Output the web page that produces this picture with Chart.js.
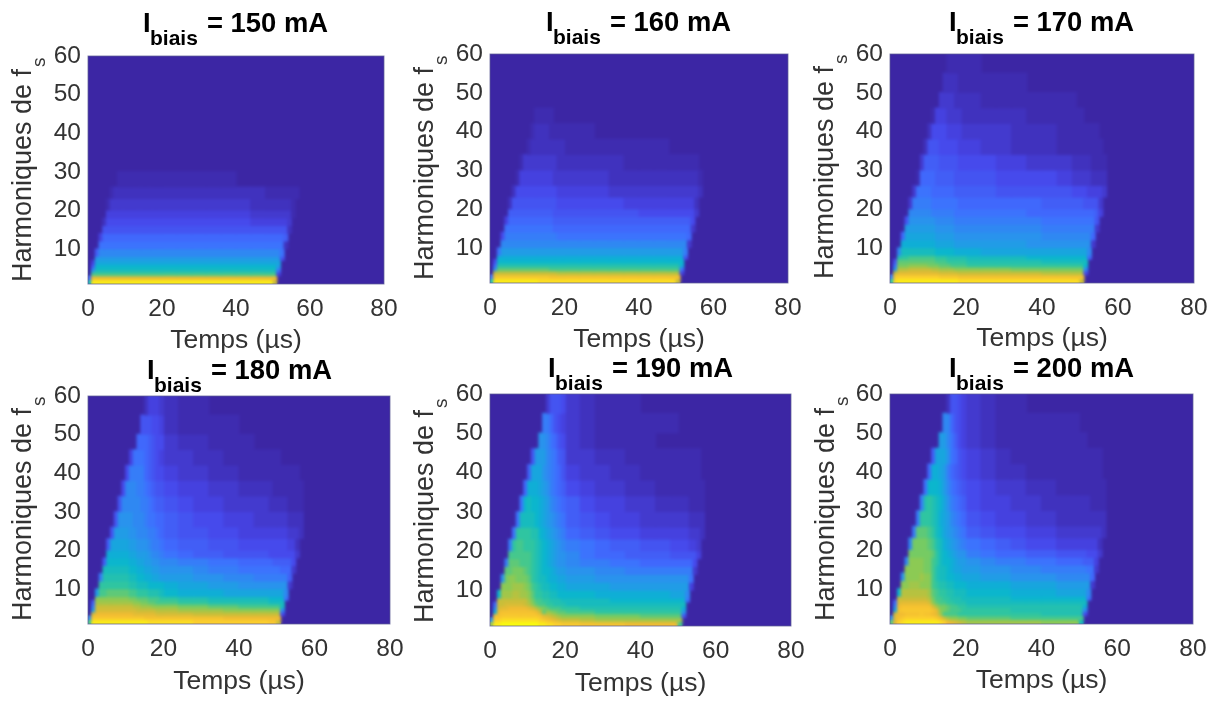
<!DOCTYPE html>
<html><head><meta charset="utf-8">
<script src="https://cdn.jsdelivr.net/npm/chart.js@4"></script>
<style>
html,body{margin:0;padding:0;background:#fff;width:1215px;height:702px;overflow:hidden}
canvas{position:absolute}
svg{position:absolute;left:0;top:0;pointer-events:none}
text{font-family:"Liberation Sans",Arial,sans-serif}
</style></head><body>
<svg id="txt" width="1215" height="702" xmlns="http://www.w3.org/2000/svg"></svg>
<script>
const timeTicks=[0,20,40,60,80];
const harmonicTicks=[10,20,30,40,50,60];
// time bins (µs): centres and widths, in the seven groups used by the grid strings
const groupSizes=[5,5,5,5,7,5,5];
const timeBins=[0.5,1.5,2.5,3.5,4.5,5.5,6.5,7.5,8.5,9.5,10.5,11.5,12.5,13.5,14.5,15.5,16.5,17.5,18.5,19.5,
 22,26,30,34,38,42,46,
 48.5,49.5,50.5,51.5,52.5,53.5,54.5,55.5,56.5,57.5];
const binWidths=[1,1,1,1,1,1,1,1,1,1,1,1,1,1,1,1,1,1,1,1,
 4,4,4,4,4,4,4,
 1,1,1,1,1,1,1,1,1,1];
const harmonicRows=[[55,60],[50,55],[46,50],[42,46],[38,42],[34,38],[30,34],[26,30],[23,26],[20,23],[18,20],[16,18],[14,16],[12,14],[10,12],[8,10],[7,8],[6,7],[5,6],[4,5],[3,4],[2,3],[1,2]];
const currents=[150,160,170,180,190,200];
const levelChars="0123456789abcdefghijklmnopqrstuvwxyz";
const parula=["#3C26A4","#4747EB","#3E6FFF","#2796EB","#08B5D0","#31C69F","#81CC59","#C4BF3A","#F0BA32","#FCCE2E","#F9FB0E"];

const grid150=["","","","","","","",
"00000 00011 11111 11111 1111100",
"00000 01222 22222 22222 2222222 11111 11110",
"00000 13333 33333 33333 3333332 22222 22100",
"00000 44444 44444 44444 4444443 33333 33100",
"00002 55555 55555 55555 5555554 44444 43000",
"00006 66666 66666 66666 6666666 66666 62000",
"00048 88888 88888 88888 8888888 88888 70000",
"00099 99999 99999 99999 9999999 99999 20000",
"007bb bbbbb bbbbb bbbbb bbbbbbb bbbb9",
"00ddd ddddd ddddd ddddd ddddddd dddd6",
"04eee eeeee eeeee eeeee eeeeeee eeee0",
"07ggg ggggg ggggg ggggg ggggggg gggd0",
"0chhh hhhhh hhhhh hhhhh hhhhhhh hhh90",
"0kkkk kkkkk kkkkk kkkkk kkkkkkk kkk40",
"8tttt ttttt ttttt ttttt ttttttt ttt00",
"hyyyy yyyyy yyyyy yyyyy yyyyyyy yyq00"];
const grid160=["","","",
"00000 00000 00111 11000",
"00000 00000 01222 21111 1100000",
"00000 00000 12222 22222 1111111",
"00000 00013 33333 33322 2222111 11111 11100",
"00000 00144 44444 44333 3332222 22222 22210",
"00000 02555 55555 55544 4443333 33333 33320",
"00000 26666 66666 66655 5555444 44444 44200",
"00000 77777 77777 77666 6666655 55555 55300",
"00004 88888 88888 88777 7777777 77777 75000",
"00009 99999 99999 99888 8888888 88888 83000",
"0005a aaaaa aaaaa aaa99 9999999 99999 80000",
"000bb bbbbb bbbbb bbbbb bbbbbbb bbbbb 30000",
"009dd ddddd ddddd ddddd ddddddd dddda",
"00fff fffff fffff fffff fffffff ffff6",
"05ggg ggggg ggggg ggggg ggggggg gggg0",
"08iii iiiii iiiii iiiii iiiiiii iiif0",
"0clll lllll lllll lkkkk kkkkkkk kkk90",
"0qqqq qqqqq qqqqq qqqpp ppppppp ppp40",
"9uvvv vvvvv vvvvv vuuuu uuuuuuu uuu00",
"iyyyy yyyyy yyyxx xxxxx xxxxxxx xxq00"];
const grid170=[
"00000 00000 00000 11111 1000000",
"00000 00000 00002 22211 1111000",
"00000 00000 00033 33222 2111111 10000",
"00000 00000 01444 33332 2222111 11100",
"00000 00000 25555 44443 3332221 11111 11000",
"00000 00002 66655 55544 4332221 11111 11100",
"00000 00037 77766 66655 5544333 22222 11110",
"00000 00188 88777 77666 6655554 33333 22220",
"00000 03999 98888 88777 7766666 55554 44430",
"00000 3aaaa a9999 99988 8888877 77766 66300",
"00000 bbbbb baaaa aa999 9999888 88888 87400",
"00006 ccccc ccbbb bbaaa aaaaa99 99999 96000",
"0000d ddddd ddccc ccbbb bbbbbaa aaaaa a3000",
"0008e eeeee eeddd ddccc cccccbb bbbbb 80000",
"000ff fffff ffeee eeddd ddddccc ccccc 30000",
"00bhh hhhhh hhggg ggfff feeeeee eeeeb",
"00ijj kkkkk kkjjj iiiii hhhhggg gggg8",
"06lll lllll llkkk jjjjj iiiiihh hhhh0",
"09mmm nnnnn mmmll lkkkk jjjjjjj jjjg0",
"0dppp qqqqq qppoo oonnn nnnmmmm mmmb0",
"0qsss sssss sssrr rrrqq qqqqqpp ppp50",
"avwww wwwww wwwvv vvvuu uuuuuuu uuu00",
"jxyyy yyyyy yyyyy yyyxx xxxxxxx xxq00"];
const grid180=[
"00000 00000 00000 24443 2110000",
"00000 00000 00006 66554 2111100",
"00000 00000 00088 87655 3221110",
"00000 00000 04999 87654 3322111 11100",
"00000 00000 5aaaa 87655 4332211 11111 11100",
"00000 00005 bbbaa 98766 5443322 21111 11110",
"00000 0006b bbbba a9877 6544333 22222 11110",
"00000 006cc ccbbb a9988 7655443 33333 22220",
"00000 06ddd dccbb baa98 7665544 44444 33320",
"00000 7eeee eddcc cbaa9 8776655 55555 44200",
"00000 fffff feedd dcbba 9877666 55555 55300",
"00007 ggggg gffee ddccb baa9988 87777 75000",
"0000h hhhhh hggff eeddc ccbaa99 99988 83000",
"000ai iiiii ihhgg ffeed ddccbba aaaaa 70000",
"000jj jjjjj jiihh hgggg feeddcc ccccc 30000",
"00dkk lllll lkkjj jiiih gfffeee eeeeb",
"00nnn nnnnn nmmll lkkkj jiihhhh gggg9",
"07ooo ooooo oonnm mllkk kjjiiii hhhh0",
"0aqqq qqqqq qqppo oonnn nmmllkk kkkh0",
"0drrr rrrrr rrrqq qqqpp pooonnn nnnb0",
"0rttt ttttt ttsss sssrr rrqqqqq qqq50",
"bvvvv vvvvv vvvvv uuuuu uuuuttt ttt00",
"kyyyy yyyyy yyyyy yxxxx xxwwwww vvq00"];
const grid190=[
"00000 00000 00000 36665 3211100",
"00000 00000 0000a a8654 3211111 11000",
"00000 00000 000cc b9865 3211110",
"00000 00000 06ddd ba976 3322111 11111 11100",
"00000 00000 7eeec ba986 4332211 11111 11100",
"00000 00008 fffed ca987 5433221 11111 11110",
"00000 0009g hggfe dba98 7544332 22222 11110",
"00000 009hh hhgfe dcba9 7654433 33333 22220",
"00000 09jjj jiigf edcba 8765544 44444 33320",
"00000 ajkkj jjihg fedcb a987766 55555 44300",
"00000 kkkkk kjihg fedcc b988777 66666 66400",
"0000a lllkk kjihg fedcc baa9988 88888 85000",
"0000l lmmml kjihg gfedd ccbbaaa aaaaa a3000",
"000cm nnmmm ljihh gffee ddccccc ccccc 90000",
"000nn nooon mkjih hggff eeedddd ddddd 40000",
"00goo oppoo nljji ihhgg ggfffff eeeeb",
"00qqq qqqqq omkkj jiiih hhhgggg gggg9",
"08qqr rrrrq pnlkk jjiii hhhhhhh hhhh0",
"0brss ttttt srpnm lkkkj jiiiiii iiif0",
"0ftuu uuuuu uutql onmll kkjjjjj jjjc0",
"0uuvv vvvvv vvvus rqpon nnmmmll lll60",
"cwwxx xxxxx xxxwv utsrq qpooooo ooo00",
"oyyzz zzzzz zzzyy xxwwv vuuuttt ttk00"];
const grid200=[
"00000 00000 00000 26654 3211000",
"00000 00000 0000b b8654 3211111 11000",
"00000 00000 000dd b9754 3211111 11110",
"00000 00000 07eee c9865 4321111 11111 11100",
"00000 00000 8ffed a8765 4322111 11111 11100",
"00000 00009 gggfd b9876 5433221 11111 11110",
"00000 000ai jihge ca987 5443322 22222 11110",
"00000 00ajj jihfe dba98 6544332 22222 22220",
"00000 0alll kjhge dcba9 7655443 33333 33320",
"00000 bmmmm lkihf edcba 9876554 44444 44200",
"00000 mmmmm mljhg fedcc a988776 66665 55300",
"0000b nnnnm mkjhg gfedd cbaa998 88877 74000",
"0000n nnnnm mkihh gfeed dccbbaa aaaa9 93000",
"000cn nnnon nkihh ggffe eddcccb bbbbb 80000",
"000nn ooonn nkjii hhggg fffeeed ddddd 30000",
"00gpp ppppp olkjj iihhh gggfffe eeeeb",
"00qqq qqqqq pmkkj jiiih hhhgggg gggg9",
"08rss sssss rnlkk jjiii hhhhhhh hhhh0",
"0btuu uuuuu uromm lkkjj iiiiiii iiif0",
"0euvv vvvvv vusnm lkkkj jjjiiii iiib0",
"0rttu uuuvu utsok kkkjj jjjjjii iii50",
"bsuvw wwwww wwvtq onnmm lllkkkk kkk00",
"lswxy yyyyy yyyxw tsrqp ooooonn nnh00"];
const grids=[grid150,grid160,grid170,grid180,grid190,grid200];

// page layout of each panel: plot rectangle, and where its texts sit
const panels=[
 {l:87.5,r:383,t:56,b:284,ti:143,tb:32,yx:31,yb:282,xp:7},
 {l:490,r:788,t:54,b:283,ti:546,tb:31,yx:433,yb:280,xp:7},
 {l:889.5,r:1193,t:54,b:283,ti:949,tb:31,yx:833,yb:279,xp:8},
 {l:87.5,r:389,t:396,b:624,ti:147,tb:379,yx:31,yb:621,xp:6},
 {l:490,r:791,t:394,b:626,ti:548,tb:377,yx:433,yb:623,xp:6},
 {l:890,r:1193,t:394,b:624,ti:949,tb:377,yx:834,yb:621,xp:7}
];
const M={L:60,T:15,R:25,B:80};
const textColor="#333333";
const font='"Liberation Sans", Arial, sans-serif';

function hex(c){return [1,3,5].map(i=>parseInt(c.substr(i,2),16));}
function levelColor(l){
  const v=Math.pow(l/35,1.15)*(parula.length-1);
  const i=Math.min(Math.floor(v),parula.length-2),f=v-i;
  const a=hex(parula[i]),b=hex(parula[i+1]);
  return "rgb("+a.map((x,k)=>Math.round(x+(b[k]-x)*f)).join(",")+")";
}
// one row of the grid gives one dataset per bin width, all floating bars on the library's scales
function rowDatasets(str,row){
  const byWidth={};
  let start=0;
  const groups=str?str.split(" "):[];
  groupSizes.forEach((size,g)=>{
    const s=groups[g]||"";
    for(let k=0;k<size&&k<s.length;k++){
      const l=levelChars.indexOf(s[k]),c=start+k;
      if(l<=0)continue;
      const w=binWidths[c];
      (byWidth[w]=byWidth[w]||{data:[],backgroundColor:[],borderWidth:0,grouped:false,barPercentage:w+0.3,categoryPercentage:1});
      byWidth[w].data.push({x:timeBins[c],y:[row[0],row[1]+0.2]});
      byWidth[w].backgroundColor.push(levelColor(l));
    }
    start+=size;
  });
  return Object.values(byWidth);
}
const frame={id:"frame",
 beforeDatasetsDraw(ch){const a=ch.chartArea,c=ch.ctx;c.save();c.fillStyle=parula[0];c.fillRect(a.left,a.top,a.width,a.height);c.restore();},
 afterDatasetsDraw(ch){
   const a=ch.chartArea,c=ch.ctx;
   // the reference is a soft photograph of the figure: soften the cells the same way
   c.save();c.beginPath();c.rect(a.left,a.top,a.width,a.height);c.clip();
   c.filter="blur(1.6px)";c.drawImage(ch.canvas,0,0);c.restore();
   c.save();c.strokeStyle="rgba(95,95,150,0.75)";c.lineWidth=1;c.strokeRect(a.left,a.top,a.width,a.height);c.restore();
 }
};
const NS="http://www.w3.org/2000/svg";
const svg=document.getElementById("txt");
function el(n,attrs,parent,txt){const e=document.createElementNS(NS,n);for(const k in attrs)e.setAttribute(k,attrs[k]);if(txt)e.textContent=txt;(parent||svg).appendChild(e);return e;}

panels.forEach((p,i)=>{
  const cv=document.createElement("canvas");
  const w=p.r-p.l+M.L+M.R,h=p.b-p.t+M.T+M.B;
  cv.width=Math.round(w);cv.height=Math.round(h);
  cv.style.left=(p.l-M.L)+"px";cv.style.top=(p.t-M.T)+"px";
  cv.style.width=cv.width+"px";cv.style.height=cv.height+"px";
  document.body.insertBefore(cv,svg);
  const datasets=[];
  grids[i].forEach((s,r)=>datasets.push(...rowDatasets(s,harmonicRows[r])));
  new Chart(cv,{
    type:"bar",
    data:{datasets},
    plugins:[frame],
    options:{
      responsive:false,animation:false,devicePixelRatio:1,
      layout:{padding:{left:0,top:M.T,right:M.R,bottom:0}},
      plugins:{legend:{display:false},tooltip:{enabled:false},title:{display:false}},
      scales:{
        x:{type:"linear",min:0,max:80,offset:false,
          grid:{display:false,drawTicks:false,offset:false},border:{display:false},
          afterBuildTicks(s){s.ticks=timeTicks.map(v=>({value:v}));},
          afterFit(s){s.height=M.B;s.paddingLeft=0;s.paddingRight=0;},
          ticks:{color:textColor,font:{family:font,size:24.5},padding:11,maxRotation:0,autoSkip:false},
          title:{display:true,text:"Temps (µs)",color:textColor,font:{family:font,size:26.5},padding:{top:0,bottom:p.xp}}},
        y:{type:"linear",min:1,max:60,
          grid:{display:false,drawTicks:false},border:{display:false},
          afterBuildTicks(s){s.ticks=harmonicTicks.map(v=>({value:v}));},
          afterFit(s){s.width=M.L;s.paddingTop=0;s.paddingBottom=0;},
          ticks:{color:textColor,font:{family:font,size:24.5},padding:7,autoSkip:false}}
      }
    }
  });
  // titles and y-axis labels carry subscripts, so they are set as SVG text
  const t=el("text",{"font-weight":"bold","fill":"#000"});
  el("tspan",{x:p.ti,y:p.tb,"font-size":27.4},t,"I");
  el("tspan",{x:p.ti+7,y:p.tb+13,"font-size":21},t,"biais");
  el("tspan",{x:p.ti+64,y:p.tb,"font-size":27.4},t,"= "+currents[i]+" mA");
  const y=el("text",{fill:textColor,transform:"translate("+p.yx+","+p.yb+") rotate(-90)"});
  el("tspan",{x:0,y:0,"font-size":27},y,"Harmoniques de f");
  el("tspan",{dy:14,dx:2,"font-size":19},y,"s");
});
</script>
</body></html>
